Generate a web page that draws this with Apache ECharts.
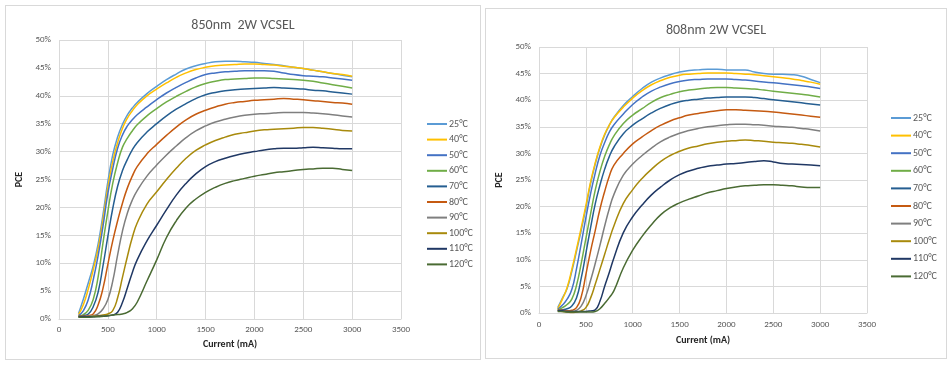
<!DOCTYPE html>
<html>
<head>
<meta charset="utf-8">
<script src="https://cdn.jsdelivr.net/npm/echarts@6/dist/echarts.min.js"></script>
<style>
  html, body { margin:0; padding:0; background:#ffffff; }
  body { width:951px; height:366px; position:relative; overflow:hidden; }
  .frame { position:absolute; border:1px solid #D9D9D9; box-sizing:border-box; background:#fff; }
  #c1 { left:5px; top:5px; width:476px; height:355px; }
  #c2 { left:485px; top:8px; width:462px; height:351px; }
</style>
</head>
<body>
<div id="c1" class="frame"></div>
<div id="c2" class="frame"></div>
<script>
// ---- data ----
const temps = ['25°C','40°C','50°C','60°C','70°C','80°C','90°C','100°C','110°C','120°C'];
const currents = [200,250,300,350,400,450,500,550,600,650,700,750,800,
                  900,1000,1100,1200,1300,1400,1500,
                  1600,1700,1800,1900,2000,2100,2200,2300,2400,2500,2600,2700,2800,2900,3000];

// 850nm 2W VCSEL (PCE %)
const pce850_25  = [1.0,3.6,6.5,9.5,13.4,18.7,24.6,29.4,32.6,34.9,36.6,37.8,38.8, 40.4,41.7,42.9,43.9,44.8,45.4,45.8, 46.1,46.2,46.2,46.1,46.0,45.8,45.6,45.4,45.1,44.9,44.6,44.3,44.0,43.7,43.4];
const pce850_40  = [0.8,2.6,5.4,8.8,12.6,17.8,23.6,28.2,31.6,34.2,36.0,37.3,38.4, 40.0,41.2,42.3,43.3,44.1,44.7,45.1, 45.4,45.5,45.6,45.7,45.7,45.6,45.5,45.3,45.1,44.9,44.6,44.3,44.0,43.8,43.5];
const pce850_50  = [0.6,1.5,3.5,7.0,11.3,16.6,22.5,26.9,30.6,33.0,34.6,35.7,36.6, 38.0,39.3,40.5,41.5,42.4,43.2,43.8, 44.1,44.3,44.4,44.5,44.5,44.5,44.4,44.1,43.8,43.6,43.5,43.4,43.2,43.0,42.8];
const pce850_60  = [0.5,0.8,1.6,3.5,7.5,13.6,19.3,24.3,28.0,30.8,32.4,33.7,34.8, 36.4,37.7,38.9,39.9,40.8,41.6,42.2, 42.6,42.9,43.0,43.1,43.2,43.2,43.1,43.0,42.9,42.8,42.6,42.3,42.0,41.7,41.4];
const pce850_70  = [0.5,0.6,0.9,2.2,4.8,9.5,14.8,19.8,23.8,26.6,28.6,30.3,31.6, 33.5,35.0,36.4,37.6,38.6,39.5,40.2, 40.6,40.9,41.1,41.2,41.3,41.4,41.5,41.4,41.3,41.2,41.0,40.9,40.7,40.5,40.3];
const pce850_80  = [0.5,0.5,0.6,0.9,2.5,5.5,9.8,14.0,17.6,20.8,23.5,25.6,27.3, 29.6,31.3,32.9,34.4,35.7,36.7,37.4, 38.0,38.5,38.8,39.0,39.2,39.3,39.4,39.5,39.4,39.3,39.1,39.0,38.8,38.7,38.5];
const pce850_90  = [0.4,0.4,0.5,0.6,0.9,1.8,3.5,6.8,11.5,15.8,19.0,21.3,23.0, 25.6,27.6,29.4,31.0,32.5,33.7,34.6, 35.3,35.8,36.2,36.5,36.7,36.8,36.9,37.0,37.0,37.0,36.9,36.8,36.6,36.4,36.2];
const pce850_100 = [0.4,0.4,0.4,0.5,0.6,0.7,0.9,1.5,3.8,7.5,11.2,14.6,17.2, 20.6,22.8,25.0,27.0,28.8,30.2,31.2, 32.0,32.6,33.1,33.4,33.7,33.9,34.0,34.1,34.2,34.3,34.3,34.2,34.0,33.8,33.7];
const pce850_110 = [0.4,0.4,0.4,0.4,0.5,0.5,0.6,0.7,1.2,3.0,5.6,8.3,10.6, 14.0,16.8,19.6,22.2,24.3,26.0,27.3, 28.2,28.8,29.3,29.7,30.0,30.3,30.5,30.6,30.6,30.7,30.8,30.7,30.6,30.5,30.5];
const pce850_120 = [0.3,0.3,0.3,0.4,0.4,0.5,0.6,0.7,0.8,0.9,1.2,1.8,3.0, 6.8,10.6,14.6,17.6,19.9,21.5,22.7, 23.6,24.3,24.8,25.2,25.6,25.9,26.2,26.4,26.6,26.8,26.9,27.0,27.0,26.8,26.6];

// 808nm 2W VCSEL (PCE %)
const pce808_25  = [1.0,2.8,4.6,7.8,11.6,15.5,19.7,24.3,28.0,31.0,33.4,35.3,36.8, 39.0,40.7,42.2,43.4,44.2,44.8,45.3, 45.6,45.7,45.8,45.8,45.7,45.7,45.7,45.3,45.0,44.9,44.9,44.8,44.5,43.9,43.3];
const pce808_40  = [0.8,2.6,4.8,8.2,12.0,16.0,20.2,24.6,28.2,31.2,33.6,35.3,36.7, 38.7,40.4,41.8,42.9,43.7,44.3,44.7, 44.9,45.0,45.1,45.1,45.1,45.0,44.9,44.8,44.6,44.4,44.2,44.0,43.7,43.4,43.0];
const pce808_50  = [0.7,1.5,2.6,4.4,8.3,13.0,17.9,22.4,26.3,29.6,32.0,34.0,35.4, 37.4,39.2,40.6,41.7,42.5,43.1,43.5, 43.8,43.9,44.0,44.0,44.0,43.9,43.8,43.6,43.4,43.3,43.1,42.9,42.7,42.5,42.2];
const pce808_60  = [0.6,1.0,1.6,2.6,5.2,9.3,14.0,18.6,23.1,26.6,29.4,31.6,33.3, 35.6,37.2,38.4,39.6,40.5,41.1,41.6, 41.9,42.1,42.3,42.4,42.4,42.3,42.2,42.1,41.9,41.7,41.5,41.3,41.1,40.9,40.6];
const pce808_70  = [0.5,0.6,0.8,1.3,2.8,6.5,11.2,16.0,20.5,24.0,27.0,29.4,31.2, 33.7,35.3,36.5,37.6,38.5,39.2,39.7, 40.0,40.2,40.4,40.5,40.6,40.6,40.6,40.5,40.3,40.1,39.9,39.7,39.5,39.3,39.1];
const pce808_80  = [0.5,0.5,0.4,0.5,1.0,3.0,7.2,11.6,15.5,19.5,22.8,25.7,27.8, 30.0,31.8,33.1,34.3,35.3,36.1,36.7, 37.2,37.5,37.8,38.0,38.2,38.2,38.1,38.0,37.9,37.8,37.6,37.4,37.2,37.0,36.8];
const pce808_90  = [0.4,0.4,0.3,0.3,0.5,1.3,3.2,6.1,9.3,12.7,16.3,19.6,22.3, 25.9,28.0,29.6,31.0,32.2,33.1,33.8, 34.3,34.7,35.0,35.2,35.4,35.5,35.5,35.4,35.3,35.1,35.0,34.9,34.7,34.5,34.2];
const pce808_100 = [0.4,0.3,0.2,0.1,0.2,0.4,1.0,2.8,5.4,8.2,11.0,13.8,16.4, 20.6,23.2,25.3,27.0,28.5,29.6,30.4, 31.0,31.4,31.8,32.1,32.3,32.4,32.5,32.4,32.3,32.1,32.0,31.9,31.7,31.5,31.2];
const pce808_110 = [0.4,0.4,0.3,0.3,0.3,0.3,0.3,0.4,0.6,2.2,5.0,7.6,10.4, 15.1,18.1,20.3,22.2,23.7,25.0,26.0, 26.7,27.2,27.6,27.8,28.0,28.1,28.3,28.5,28.6,28.4,28.1,28.0,27.9,27.8,27.7];
const pce808_120 = [0.3,0.3,0.2,0.2,0.2,0.2,0.2,0.2,0.3,0.8,1.8,2.9,4.2, 8.5,11.8,14.4,16.6,18.5,19.8,20.7, 21.4,22.0,22.6,23.0,23.4,23.7,23.9,24.0,24.1,24.1,24.0,23.9,23.7,23.6,23.6];

const xTicks = {min:0, max:3500, step:500};
const yTicks = {min:0, max:50, step:5};

// ---- styling ----
const colors = ['#5B9BD5','#FFC000','#4472C4','#70AD47','#255E91','#C55A11','#7F7F7F','#A88A0C','#203864','#4A6B33'];
const FONT = "Carlito, Lato, 'Open Sans', sans-serif";
const GRAY = '#595959';

function buildSeries(sets) {
  return temps.map((t, i) => ({
    name: t,
    type: 'line',
    data: currents.map((c, j) => [c, sets[i][j]]),
    smooth: 0.5,
    symbol: 'none',
    showSymbol: false,
    lineStyle: { width: 1.5, color: colors[i] },
    itemStyle: { color: colors[i] },
    z: 2
  }));
}

function buildOption(cfg) {
  return {
    animation: false,
    backgroundColor: '#ffffff',
    color: colors,
    title: {
      text: cfg.title, left: 'center', top: cfg.titleTop,
      textStyle: { fontFamily: FONT, fontSize: 14, fontWeight: 'normal', color: GRAY }
    },
    legend: {
      data: temps, orient: 'vertical', left: cfg.legendLeft, top: cfg.legendTop, padding: 0,
      icon: 'rect', itemWidth: 20, itemHeight: 2, itemGap: cfg.legendGap,
      textStyle: { fontFamily: FONT, fontSize: 10, color: GRAY, lineHeight: 12, padding: [0, 0, 0, -3] }
    },
    grid: { left: cfg.grid[0], top: cfg.grid[1], width: cfg.grid[2], height: cfg.grid[3] },
    xAxis: {
      type: 'value', min: xTicks.min, max: xTicks.max, interval: xTicks.step,
      name: 'Current (mA)', nameLocation: 'middle', nameGap: cfg.xNameGap,
      nameTextStyle: { fontFamily: FONT, fontSize: 10, fontWeight: 'bold', color: '#262626' },
      axisLine: { show: true, lineStyle: { color: '#D9D9D9', width: 1 } },
      axisTick: { show: false },
      axisLabel: { fontFamily: FONT, fontSize: 9, color: GRAY, margin: cfg.xLabelMargin, formatter: v => String(v) },
      splitLine: { show: true, lineStyle: { color: '#D9D9D9', width: 1 } }
    },
    yAxis: {
      type: 'value', min: yTicks.min, max: yTicks.max, interval: yTicks.step,
      name: 'PCE', nameLocation: 'middle', nameGap: cfg.yNameGap, nameRotate: 90,
      nameTextStyle: { fontFamily: FONT, fontSize: 10, fontWeight: 'bold', color: '#262626' },
      axisLine: { show: false },
      axisTick: { show: false },
      axisLabel: { fontFamily: FONT, fontSize: 9, color: GRAY, margin: 8, formatter: v => v + '%' },
      splitLine: { show: true, lineStyle: { color: '#D9D9D9', width: 1 } }
    },
    series: buildSeries(cfg.sets)
  };
}

const chart1 = echarts.init(document.getElementById('c1'), null, { renderer: 'canvas' });
chart1.setOption(buildOption({
  title: '850nm  2W VCSEL', titleTop: 7,
  legendLeft: 421, legendTop: 112, legendGap: 3.6,
  grid: [53, 34, 342, 279],
  xNameGap: 20, xLabelMargin: 6, yNameGap: 28,
  sets: [pce850_25, pce850_40, pce850_50, pce850_60, pce850_70, pce850_80, pce850_90, pce850_100, pce850_110, pce850_120]
}));

const chart2 = echarts.init(document.getElementById('c2'), null, { renderer: 'canvas' });
chart2.setOption(buildOption({
  title: '808nm 2W VCSEL', titleTop: 9,
  legendLeft: 405, legendTop: 103, legendGap: 5.6,
  grid: [53, 38, 328, 266],
  xNameGap: 22, xLabelMargin: 7, yNameGap: 28,
  sets: [pce808_25, pce808_40, pce808_50, pce808_60, pce808_70, pce808_80, pce808_90, pce808_100, pce808_110, pce808_120]
}));
</script>
</body>
</html>
